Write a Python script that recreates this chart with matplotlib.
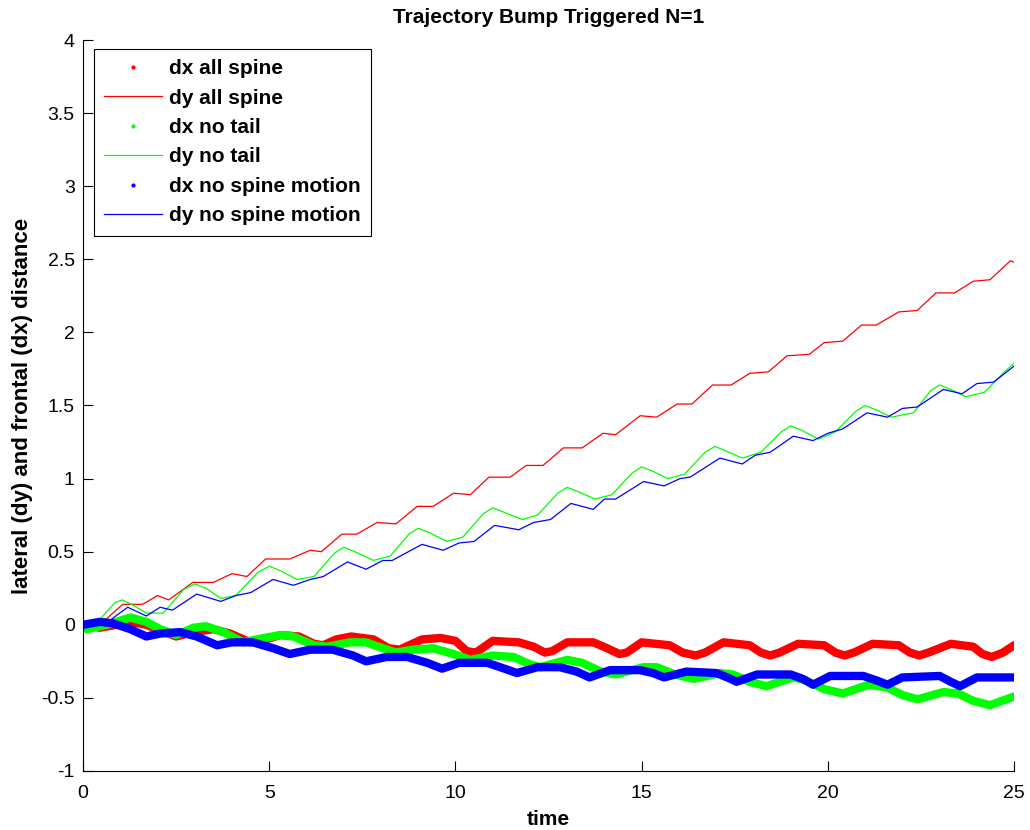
# Import libraries
import matplotlib.pyplot as plt
from matplotlib.lines import Line2D

# (time, distance) points
dx_all_spine = [(0, 0), (0.45, -0.02), (0.9, 0.0), (1.27, 0.02), (1.7, 0.0), (2.1, -0.04), (2.5, -0.08),
                (2.95, -0.05), (3.5, -0.03), (3.95, -0.06), (4.5, -0.12), (4.9, -0.1), (5.3, -0.07),
                (5.8, -0.08), (6.2, -0.13), (6.45, -0.14), (6.8, -0.1), (7.2, -0.08), (7.8, -0.1),
                (8.2, -0.16), (8.5, -0.17), (9.1, -0.1), (9.6, -0.09), (10.0, -0.11), (10.3, -0.18),
                (10.55, -0.19), (11.0, -0.11), (11.7, -0.12), (12.1, -0.15), (12.4, -0.19),
                (12.6, -0.18), (13.0, -0.12), (13.7, -0.12), (14.07, -0.16), (14.4, -0.2),
                (14.6, -0.19), (15.0, -0.12), (15.75, -0.14), (16.1, -0.19), (16.45, -0.21),
                (16.7, -0.19), (17.2, -0.12), (17.9, -0.14), (18.2, -0.19), (18.45, -0.21),
                (18.7, -0.19), (19.2, -0.13), (19.9, -0.14), (20.2, -0.19), (20.45, -0.21),
                (20.7, -0.19), (21.2, -0.13), (21.9, -0.14), (22.2, -0.19), (22.45, -0.21),
                (22.7, -0.19), (23.3, -0.13), (23.9, -0.15), (24.15, -0.2), (24.4, -0.22),
                (24.7, -0.19), (25, -0.14)]
dy_all_spine = [(0, 0), (0.5, 0.01), (0.8, 0.08), (1.07, 0.14), (1.6, 0.14), (2.0, 0.2), (2.3, 0.17),
                (2.95, 0.29), (3.5, 0.29), (4.0, 0.35), (4.4, 0.33), (4.9, 0.45), (5.55, 0.45),
                (6.1, 0.51), (6.4, 0.5), (6.95, 0.62), (7.35, 0.62), (7.9, 0.7), (8.4, 0.69),
                (8.97, 0.81), (9.4, 0.81), (9.95, 0.9), (10.4, 0.89), (10.9, 1.01), (11.47, 1.01),
                (11.9, 1.09), (12.35, 1.09), (12.9, 1.21), (13.4, 1.21), (13.96, 1.31), (14.3, 1.3),
                (14.96, 1.43), (15.4, 1.42), (15.95, 1.51), (16.35, 1.51), (16.9, 1.64), (17.4, 1.64),
                (17.9, 1.72), (18.4, 1.73), (18.9, 1.84), (19.5, 1.85), (19.9, 1.93), (20.4, 1.94),
                (20.9, 2.05), (21.3, 2.05), (21.9, 2.14), (22.4, 2.15), (22.9, 2.27), (23.4, 2.27),
                (23.9, 2.35), (24.35, 2.36), (24.9, 2.49), (25, 2.48)]
dx_no_tail = [(0, 0), (0.1, -0.03), (0.64, 0.0), (1.27, 0.05), (1.7, 0.02), (2.07, -0.03), (2.5, -0.07),
              (2.97, -0.02), (3.3, -0.01), (3.77, -0.05), (4.3, -0.12), (4.66, -0.1), (5.3, -0.07),
              (5.65, -0.08), (6.2, -0.14), (6.55, -0.15), (7.17, -0.12), (7.6, -0.12), (8.05, -0.16),
              (8.4, -0.19), (8.87, -0.17), (9.4, -0.16), (9.95, -0.2), (10.4, -0.24), (11.0, -0.21),
              (11.55, -0.22), (12.0, -0.27), (12.27, -0.29), (13.0, -0.24), (13.4, -0.26),
              (13.9, -0.32), (14.3, -0.34), (15.05, -0.29), (15.4, -0.29), (15.9, -0.34),
              (16.4, -0.37), (17.1, -0.33), (17.45, -0.34), (17.9, -0.39), (18.35, -0.42),
              (19.07, -0.36), (19.4, -0.38), (19.9, -0.44), (20.4, -0.47), (21.1, -0.41),
              (21.6, -0.43), (22.0, -0.48), (22.4, -0.51), (23.1, -0.46), (23.5, -0.47),
              (23.9, -0.52), (24.35, -0.55), (25, -0.49)]
dy_no_tail = [(0, 0), (0.1, -0.03), (0.5, 0.05), (0.85, 0.15), (1.05, 0.17), (1.3, 0.14), (1.7, 0.08),
              (2.15, 0.08), (2.7, 0.24), (3.0, 0.28), (3.3, 0.25), (3.7, 0.18), (4.1, 0.2),
              (4.7, 0.36), (5.0, 0.4), (5.3, 0.37), (5.75, 0.31), (6.2, 0.33), (6.75, 0.49),
              (7.0, 0.53), (7.3, 0.5), (7.8, 0.44), (8.25, 0.47), (8.75, 0.62), (9.0, 0.66),
              (9.3, 0.63), (9.77, 0.57), (10.2, 0.6), (10.75, 0.76), (11.0, 0.8), (11.3, 0.77),
              (11.8, 0.72), (12.2, 0.75), (12.75, 0.9), (13.0, 0.94), (13.3, 0.91), (13.75, 0.86),
              (14.2, 0.89), (14.75, 1.04), (15.0, 1.08), (15.3, 1.05), (15.7, 1.0), (16.15, 1.03),
              (16.7, 1.18), (16.97, 1.22), (17.25, 1.19), (17.7, 1.14), (18.2, 1.18), (18.75, 1.32),
              (19.0, 1.36), (19.3, 1.33), (19.75, 1.27), (20.2, 1.32), (20.75, 1.46), (21.0, 1.5),
              (21.3, 1.47), (21.7, 1.42), (22.3, 1.45), (22.75, 1.6), (23.0, 1.64), (23.3, 1.61),
              (23.7, 1.56), (24.2, 1.59), (24.7, 1.72), (25, 1.79)]
dx_no_spine = [(0, 0), (0.45, 0.02), (0.8, 0.01), (1.27, -0.03), (1.7, -0.08), (2.07, -0.06), (2.6, -0.05),
               (3.05, -0.08), (3.6, -0.14), (4.0, -0.12), (4.56, -0.12), (5.1, -0.16), (5.55, -0.2),
               (6.1, -0.17), (6.7, -0.17), (7.25, -0.21), (7.6, -0.25), (8.15, -0.22), (8.7, -0.22),
               (9.24, -0.26), (9.64, -0.3), (10.1, -0.26), (10.85, -0.26), (11.2, -0.29),
               (11.65, -0.33), (12.2, -0.29), (12.8, -0.29), (13.25, -0.32), (13.6, -0.36),
               (14.15, -0.31), (14.95, -0.31), (15.3, -0.33), (15.6, -0.36), (16.2, -0.32),
               (17.0, -0.33), (17.3, -0.36), (17.55, -0.39), (18.1, -0.34), (19.0, -0.34),
               (19.33, -0.37), (19.6, -0.41), (20.06, -0.35), (20.95, -0.35), (21.3, -0.38),
               (21.6, -0.41), (22.0, -0.36), (23.0, -0.35), (23.3, -0.39), (23.55, -0.42),
               (24.0, -0.36), (25, -0.36)]
dy_no_spine = [(0, 0), (0.4, 0.01), (0.72, 0.03), (1.2, 0.12), (1.7, 0.06), (2.07, 0.12), (2.4, 0.1),
               (3.05, 0.21), (3.7, 0.16), (4.1, 0.2), (4.5, 0.22), (5.1, 0.31), (5.65, 0.27),
               (6.1, 0.31), (6.45, 0.33), (7.1, 0.43), (7.6, 0.38), (8.05, 0.44), (8.3, 0.44),
               (9.1, 0.55), (9.67, 0.51), (10.1, 0.56), (10.5, 0.57), (11.05, 0.68), (11.7, 0.65),
               (12.1, 0.7), (12.55, 0.72), (13.1, 0.83), (13.7, 0.79), (14.0, 0.86), (14.3, 0.86),
               (15.05, 0.98), (15.6, 0.95), (16.03, 1.0), (16.3, 1.01), (17.1, 1.14), (17.7, 1.1),
               (18.05, 1.16), (18.45, 1.18), (19.07, 1.29), (19.6, 1.26), (20.0, 1.31), (20.4, 1.34),
               (21.05, 1.45), (21.6, 1.42), (22.0, 1.48), (22.4, 1.49), (23.1, 1.61), (23.6, 1.58),
               (24.0, 1.65), (24.45, 1.66), (25, 1.77)]

labels = ["dx all spine", "dy all spine", "dx no tail", "dy no tail",
          "dx no spine motion", "dy no spine motion"]
series = [dx_all_spine, dy_all_spine, dx_no_tail, dy_no_tail, dx_no_spine, dy_no_spine]
colors = ["#ff0000", "#ff0000", "#00ff00", "#00ff00", "#0000ff", "#0000ff"]

plt.rcParams["font.family"] = ["Liberation Sans", "DejaVu Sans"]

fig = plt.figure(figsize=(10.3, 8.3), dpi=100)
ax = fig.add_axes([0.0806, 0.0711, 0.904, 0.8807])

handles = []
for i, pts in enumerate(series):
    t = [p[0] for p in pts]
    d = [p[1] for p in pts]
    if i % 2 == 0:
        # dx: drawn with dense dots in the original -> thick line
        ax.plot(t, d, color=colors[i], linewidth=6, solid_capstyle="round",
                solid_joinstyle="round")
        handles.append(Line2D([], [], color=colors[i], linestyle="none", marker=".",
                              markersize=4))
    else:
        ax.plot(t, d, color=colors[i], linewidth=0.9)
        handles.append(Line2D([], [], color=colors[i], linewidth=0.9))

ax.set_xlim(0, 25)
ax.set_ylim(-1, 4)
ax.set_xticks([0, 5, 10, 15, 20, 25])
ax.set_yticks([-1, -0.5, 0, 0.5, 1, 1.5, 2, 2.5, 3, 3.5, 4])
ax.set_yticklabels(["-1", "-0.5", "0", "0.5", "1", "1.5", "2", "2.5", "3", "3.5", "4"])
ax.spines["top"].set_visible(False)
ax.spines["right"].set_visible(False)
ax.tick_params(direction="in", length=7, width=0.8, labelsize=14, pad=6)
ax.tick_params(axis="x", pad=10)

ax.set_title("Trajectory Bump Triggered N=1", fontsize=15, fontweight="bold", pad=12)
ax.set_xlabel("time", fontsize=15, fontweight="bold", labelpad=6)
ax.set_ylabel("lateral (dy) and frontal (dx) distance", fontsize=16, fontweight="bold",
              labelpad=6)

leg = ax.legend(handles, labels, loc="upper left", bbox_to_anchor=(0.0118, 0.988),
                borderaxespad=0, prop={"size": 15, "weight": "bold"}, fancybox=False,
                framealpha=1, edgecolor="black", handlelength=2.75, handletextpad=0.35,
                labelspacing=0.5, borderpad=0.5)
leg.get_frame().set_linewidth(0.8)

plt.savefig("out.png", dpi=100)
